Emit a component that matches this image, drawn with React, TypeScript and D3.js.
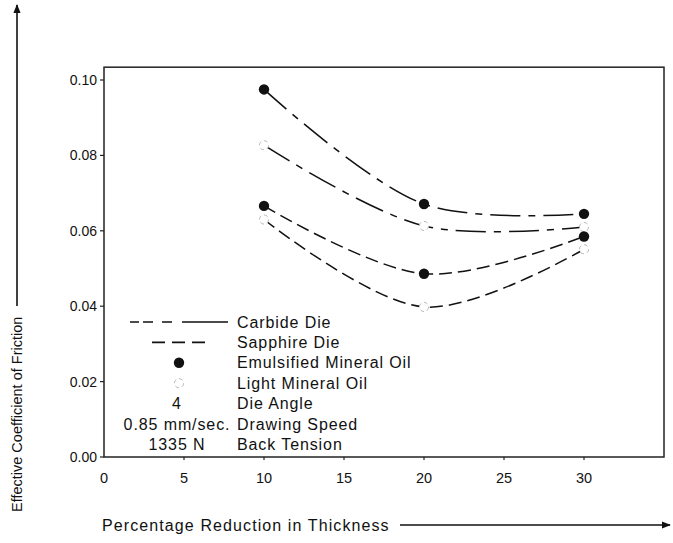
import React, { useEffect, useRef } from "react";
import * as d3 from "d3";

// percentage reduction in thickness
const reduction = [10, 20, 30];
// effective coefficient of friction
const carbideEmulsified = [0.0975, 0.0671, 0.0645];
const carbideLight = [0.0827, 0.0613, 0.061];
const sapphireEmulsified = [0.0666, 0.0486, 0.0585];
const sapphireLight = [0.063, 0.0398, 0.0551];

const xTicks = [0, 5, 10, 15, 20, 25, 30];
const yTicks = [0, 0.02, 0.04, 0.06, 0.08, 0.1];

const legendSymbols = ["carbide", "sapphire", "filled", "open", "4", "0.85 mm/sec.", "1335 N"];
const legendLabels = [
  "Carbide Die",
  "Sapphire Die",
  "Emulsified Mineral Oil",
  "Light Mineral Oil",
  "Die Angle",
  "Drawing Speed",
  "Back Tension",
];

const W = 673;
const H = 543;
const FONT = "'Liberation Sans', Arial, sans-serif";
const INK = "#111";

const App = () => {
  const ref = useRef<SVGSVGElement>(null);

  useEffect(() => {
    document.body.style.margin = "0";
    const svg = d3.select(ref.current);
    svg.selectAll("*").remove();

    const x = d3.scaleLinear().domain([0, 35]).range([104, 664]);
    const y = d3.scaleLinear().domain([0, 0.1]).range([457, 80]);
    const top = y(0.1034);

    // arrow marker
    const defs = svg.append("defs");
    defs.append("marker")
      .attr("id", "arr")
      .attr("viewBox", "0 0 10 10")
      .attr("refX", 9).attr("refY", 5)
      .attr("markerWidth", 9).attr("markerHeight", 9)
      .attr("markerUnits", "userSpaceOnUse")
      .attr("orient", "auto")
      .append("path").attr("d", "M0,1 L10,5 L0,9 Z").attr("fill", INK);

    // frame
    svg.append("rect")
      .attr("x", x(0)).attr("y", top)
      .attr("width", x(35) - x(0)).attr("height", y(0) - top)
      .attr("fill", "none").attr("stroke", "#222").attr("stroke-width", 1.5);

    // y ticks
    const yt = svg.append("g").attr("font-family", FONT).attr("font-size", 14).attr("fill", INK);
    yTicks.forEach((t) => {
      yt.append("line").attr("x1", x(0) - 4).attr("x2", x(0)).attr("y1", y(t)).attr("y2", y(t))
        .attr("stroke", "#222").attr("stroke-width", 1.2);
      yt.append("text").attr("x", x(0) - 7).attr("y", y(t) + 5).attr("text-anchor", "end")
        .text(d3.format(".2f")(t));
    });

    // x ticks
    const xt = svg.append("g").attr("font-family", FONT).attr("font-size", 14.5).attr("fill", INK);
    xTicks.forEach((t) => {
      if (t > 0) xt.append("line").attr("x1", x(t)).attr("x2", x(t)).attr("y1", y(0)).attr("y2", y(0) + 3)
        .attr("stroke", "#222").attr("stroke-width", 1.2);
      xt.append("text").attr("x", x(t)).attr("y", y(0) + 26).attr("text-anchor", "middle").text(t);
    });

    // axis titles with arrows
    svg.append("text")
      .attr("x", 102).attr("y", 531)
      .attr("font-family", FONT).attr("font-size", 16).attr("letter-spacing", 1.1).attr("fill", INK)
      .text("Percentage Reduction in Thickness");
    svg.append("line").attr("x1", 400).attr("x2", 670).attr("y1", 525).attr("y2", 525)
      .attr("stroke", INK).attr("stroke-width", 1.6).attr("marker-end", "url(#arr)");

    svg.append("text")
      .attr("transform", "translate(22,512) rotate(-90)")
      .attr("font-family", FONT).attr("font-size", 14.5).attr("fill", INK)
      .text("Effective Coefficient of Friction");
    svg.append("line").attr("x1", 17).attr("x2", 17).attr("y1", 306).attr("y2", 5)
      .attr("stroke", INK).attr("stroke-width", 1.6).attr("marker-end", "url(#arr)");

    // curves
    const line = d3.line<number>()
      .x((_, i) => x(reduction[i]))
      .y((d) => y(d))
      .curve(d3.curveCatmullRom);

    const carbideDash = "30 8 7 8";
    const sapphireDash = "13 6";
    const series = [
      { values: carbideEmulsified, dash: carbideDash, filled: true },
      { values: carbideLight, dash: carbideDash, filled: false },
      { values: sapphireEmulsified, dash: sapphireDash, filled: true },
      { values: sapphireLight, dash: sapphireDash, filled: false },
    ];

    const drawMarker = (g: any, cx: number, cy: number, filled: boolean) => {
      if (filled) {
        g.append("circle").attr("cx", cx).attr("cy", cy).attr("r", 5.2).attr("fill", INK);
      } else {
        g.append("circle").attr("cx", cx).attr("cy", cy).attr("r", 4.6)
          .attr("fill", "#fff").attr("stroke", "#bbb").attr("stroke-width", 1)
          .attr("stroke-dasharray", "4 3");
      }
    };

    const plot = svg.append("g");
    series.forEach((s) => {
      plot.append("path").attr("d", line(s.values))
        .attr("fill", "none").attr("stroke", INK).attr("stroke-width", 1.5)
        .attr("stroke-dasharray", s.dash);
    });
    series.forEach((s) => {
      s.values.forEach((v, i) => drawMarker(plot, x(reduction[i]), y(v), s.filled));
    });

    // legend
    const lg = svg.append("g").attr("font-family", FONT).attr("font-size", 16)
      .attr("letter-spacing", 0.9).attr("fill", INK);
    const rowY = (i: number) => 322 + i * 20.4;
    legendSymbols.forEach((sym, i) => {
      const ry = rowY(i);
      if (sym === "carbide") {
        lg.append("line").attr("x1", 130).attr("x2", 228).attr("y1", ry).attr("y2", ry)
          .attr("stroke", INK).attr("stroke-width", 1.6).attr("stroke-dasharray", "9 4 10 9 10 10 46");
      } else if (sym === "sapphire") {
        lg.append("line").attr("x1", 152).attr("x2", 205).attr("y1", ry).attr("y2", ry)
          .attr("stroke", INK).attr("stroke-width", 1.6).attr("stroke-dasharray", "13 7");
      } else if (sym === "filled") {
        drawMarker(lg, 179, ry, true);
      } else if (sym === "open") {
        drawMarker(lg, 179, ry, false);
      } else {
        lg.append("text").attr("x", 177).attr("y", ry + 5.5).attr("text-anchor", "middle").text(sym);
      }
      lg.append("text").attr("x", 237).attr("y", ry + 5.5).text(legendLabels[i]);
    });
  }, []);

  return <svg ref={ref} width={W} height={H} style={{ display: "block", background: "#fff" }} />;
};

export default App;
